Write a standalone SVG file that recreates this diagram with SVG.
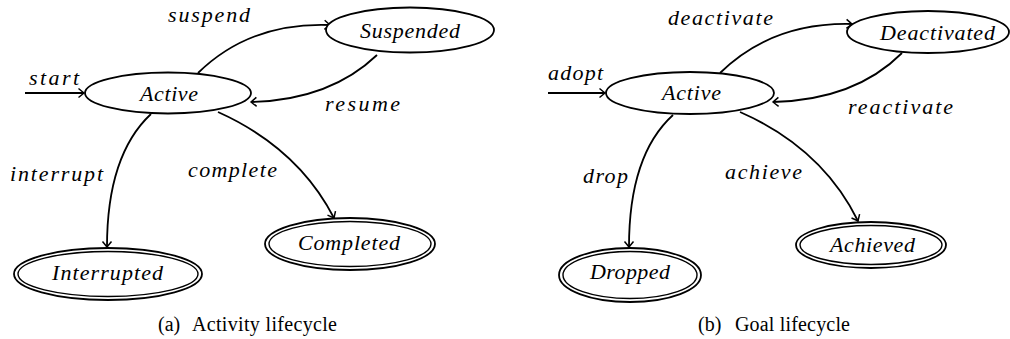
<svg xmlns="http://www.w3.org/2000/svg" width="1010" height="339" viewBox="0 0 1010 339">
<style>
.st{fill:#fff;stroke:#000;stroke-width:1.8}
.in{fill:none;stroke:#000;stroke-width:1.4}
.lb{font-family:'Liberation Serif','Times New Roman',Times,serif;font-style:italic;font-size:22px;fill:#000}
.cap{font-family:'Liberation Serif','Times New Roman',Times,serif;font-size:20px;fill:#000}
.e{fill:none;stroke:#000;stroke-width:1.8;marker-end:url(#ar)}
</style>
<defs>
<marker id="ar" viewBox="-8 -6 10 12" markerWidth="10" markerHeight="12" refX="0" refY="0" orient="auto" markerUnits="userSpaceOnUse">
<path d="M-5.5,-4.5 Q-1.5,-1.2 0,0 Q-1.5,1.2 -5.5,4.5" fill="none" stroke="#000" stroke-width="1.5"/>
</marker>
</defs>
<rect width="1010" height="339" fill="#fff"/>
<g id="connectors">
<path class="e" d="M25,93 L84,93"/>
<path class="e" d="M198,73 Q250,22 330,25"/>
<path class="e" d="M377,55 Q330,100 251,102"/>
<path class="e" d="M151,114 Q107,155 107,247"/>
<path class="e" d="M218,112 Q298,148 334,218"/>
<path class="e" d="M548,93 L605,93"/>
<path class="e" d="M720,73 Q772,22 852,24"/>
<path class="e" d="M902,53 Q855,100 773,102"/>
<path class="e" d="M673,115 Q629,155 629,247"/>
<path class="e" d="M740,112 Q822,148 858,221"/>
</g>
<g id="edge-labels" font-family="Liberation Serif" font-style="italic">
<text class="lb" x="29" y="85" textLength="50" lengthAdjust="spacing">start</text>
<text class="lb" x="168" y="22" textLength="82" lengthAdjust="spacing">suspend</text>
<text class="lb" x="325" y="111" textLength="75" lengthAdjust="spacing">resume</text>
<text class="lb" x="10" y="181" textLength="93" lengthAdjust="spacing">interrupt</text>
<text class="lb" x="188" y="177" textLength="89" lengthAdjust="spacing">complete</text>
<text class="lb" x="548" y="80" textLength="55" lengthAdjust="spacing">adopt</text>
<text class="lb" x="668" y="25" textLength="105" lengthAdjust="spacing">deactivate</text>
<text class="lb" x="848" y="114" textLength="105" lengthAdjust="spacing">reactivate</text>
<text class="lb" x="583" y="183" textLength="45" lengthAdjust="spacing">drop</text>
<text class="lb" x="725" y="179" textLength="77" lengthAdjust="spacing">achieve</text>
</g>
<g id="active-a">
<ellipse class="st" cx="168" cy="93" rx="83" ry="20.5"/>
<text class="lb" x="140" y="101" textLength="58" lengthAdjust="spacing">Active</text>
</g>
<g id="suspended">
<ellipse class="st" cx="410" cy="30" rx="84" ry="22.5"/>
<text class="lb" x="360" y="38" textLength="100" lengthAdjust="spacing">Suspended</text>
</g>
<g id="interrupted">
<ellipse class="st" cx="108" cy="274" rx="94" ry="26"/>
<ellipse class="in" cx="108" cy="274" rx="90" ry="22.5"/>
<text class="lb" x="52" y="280" textLength="111" lengthAdjust="spacing">Interrupted</text>
</g>
<g id="completed">
<ellipse class="st" cx="350" cy="244" rx="85" ry="26"/>
<ellipse class="in" cx="350" cy="244" rx="81" ry="22.5"/>
<text class="lb" x="298" y="250" textLength="102" lengthAdjust="spacing">Completed</text>
</g>
<g id="active-b">
<ellipse class="st" cx="690" cy="93" rx="84" ry="21"/>
<text class="lb" x="662" y="100" textLength="59" lengthAdjust="spacing">Active</text>
</g>
<g id="deactivated">
<ellipse class="st" cx="928" cy="32" rx="81" ry="21"/>
<text class="lb" x="880" y="40" textLength="115" lengthAdjust="spacing">Deactivated</text>
</g>
<g id="dropped">
<ellipse class="st" cx="630" cy="275" rx="71" ry="27"/>
<ellipse class="in" cx="630" cy="275" rx="67" ry="23.5"/>
<text class="lb" x="590" y="279" textLength="80" lengthAdjust="spacing">Dropped</text>
</g>
<g id="achieved">
<ellipse class="st" cx="871" cy="245" rx="75" ry="23"/>
<ellipse class="in" cx="871" cy="245" rx="71" ry="19.5"/>
<text class="lb" x="830" y="252" textLength="85" lengthAdjust="spacing">Achieved</text>
</g>
<g id="captions">
<text class="cap" x="158" y="331">(a)<tspan x="192" textLength="145" lengthAdjust="spacing">Activity lifecycle</tspan></text>
<text class="cap" x="698" y="331">(b)<tspan x="735" textLength="115" lengthAdjust="spacing">Goal lifecycle</tspan></text>
</g>
</svg>
